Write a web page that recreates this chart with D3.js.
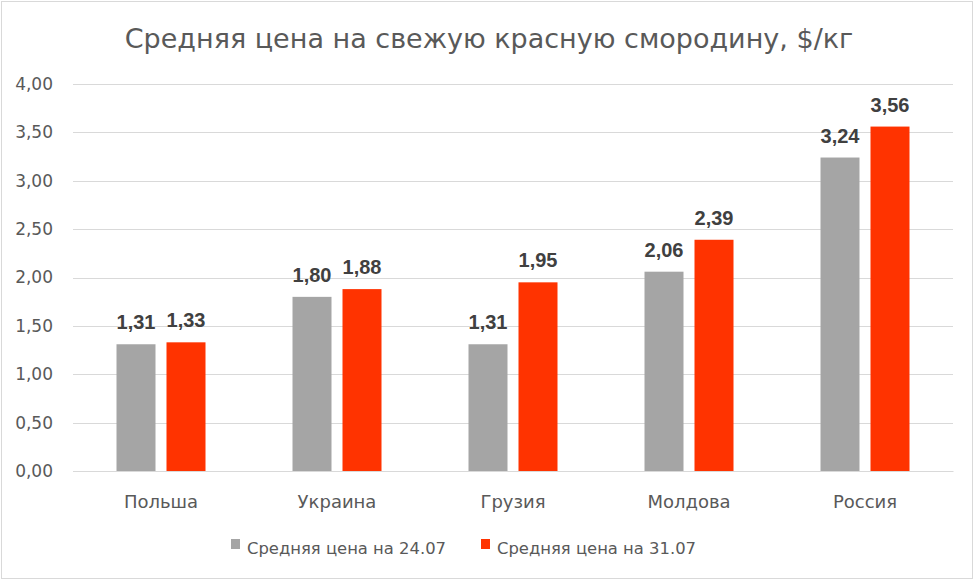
<!DOCTYPE html>
<html>
<head>
<meta charset="utf-8">
<script src="https://cdn.jsdelivr.net/npm/d3@7"></script>
<style>
  body { margin: 0; background: #fff; }
  svg { display: block; font-family: "Liberation Sans", Arial, sans-serif; }
</style>
</head>
<body>
<svg id="chart" width="976" height="582"></svg>
<script>
const categories = ["Польша", "Украина", "Грузия", "Молдова", "Россия"];
const seriesNames = ["Средняя цена на 24.07", "Средняя цена на 31.07"];
const price2407 = [1.31, 1.80, 1.31, 2.06, 3.24];
const price3107 = [1.33, 1.88, 1.95, 2.39, 3.56];
const yTicks = [0, 0.5, 1, 1.5, 2, 2.5, 3, 3.5, 4];
const colors = ["#a5a5a5", "#ff3300"];

const svg = d3.select("#chart");
const width = +svg.attr("width");
const height = +svg.attr("height");
const margin = {top: 84, right: 23, bottom: 111, left: 73};
const sans = "'DejaVu Sans', sans-serif";

const fmt = v => d3.format(".2f")(v).replace(".", ",");

// chart border
svg.append("rect")
  .attr("x", 1.5).attr("y", 1.5)
  .attr("width", width - 5).attr("height", height - 5)
  .attr("fill", "#fff").attr("stroke", "#d9d9d9");

svg.append("text")
  .attr("x", width / 2 + 1).attr("y", 48)
  .attr("text-anchor", "middle")
  .attr("fill", "#595959")
  .style("font-size", "27px")
  .style("font-family", sans)
  .text("Средняя цена на свежую красную смородину, $/кг");

const x0 = d3.scaleBand()
  .domain(categories)
  .range([margin.left, width - margin.right]);

const x1 = d3.scaleBand()
  .domain([0, 1])
  .range([0, x0.bandwidth()])
  .paddingInner(0.22)
  .paddingOuter(0.87);

const y = d3.scaleLinear()
  .domain([0, 4])
  .range([height - margin.bottom, margin.top]);

// grid
svg.append("g")
  .selectAll("line")
  .data(yTicks)
  .join("line")
  .attr("x1", margin.left).attr("x2", width - margin.right)
  .attr("y1", d => Math.round(y(d)) + 0.5).attr("y2", d => Math.round(y(d)) + 0.5)
  .attr("stroke", "#d9d9d9");

// y axis
const yAxis = svg.append("g")
  .attr("transform", `translate(${margin.left - 20},0)`)
  .call(d3.axisLeft(y).tickValues(yTicks).tickFormat(fmt).tickSize(0).tickPadding(0));
yAxis.select(".domain").remove();
yAxis.selectAll("text")
  .attr("fill", "#595959")
  .style("font-size", "17px")
  .style("font-family", sans);

// x axis
const xAxis = svg.append("g")
  .attr("transform", `translate(0,${height - margin.bottom})`)
  .call(d3.axisBottom(x0).tickSize(0).tickPadding(0));
xAxis.select(".domain").attr("stroke", "#d9d9d9");
xAxis.selectAll("text")
  .attr("y", 37)
  .attr("dy", null)
  .attr("fill", "#595959")
  .style("font-size", "18px")
  .style("font-family", sans);

const rows = categories.map((c, i) => ({cat: c, vals: [price2407[i], price3107[i]]}));

const groups = svg.append("g")
  .selectAll("g")
  .data(rows)
  .join("g")
  .attr("transform", d => `translate(${x0(d.cat)},0)`);

groups.selectAll("rect")
  .data(d => d.vals.map((v, k) => ({k, v})))
  .join("rect")
  .attr("x", d => x1(d.k))
  .attr("y", d => y(d.v))
  .attr("width", x1.bandwidth())
  .attr("height", d => y(0) - y(d.v))
  .attr("fill", d => colors[d.k]);

groups.selectAll("text.val")
  .data(d => d.vals.map((v, k) => ({k, v})))
  .join("text")
  .attr("class", "val")
  .attr("x", d => x1(d.k) + x1.bandwidth() / 2)
  .attr("y", d => y(d.v) - 15)
  .attr("text-anchor", "middle")
  .attr("fill", "#404040")
  .style("font-size", "20px")
  .style("font-weight", "bold")
  .text(d => fmt(d.v));

// legend
const legend = svg.append("g")
  .selectAll("g")
  .data(seriesNames)
  .join("g")
  .attr("transform", (d, i) => `translate(${[231, 481][i]},${548})`);

legend.append("rect")
  .attr("x", 0).attr("y", -9)
  .attr("width", 9).attr("height", 10)
  .attr("fill", (d, i) => colors[i]);

legend.append("text")
  .attr("x", 16).attr("y", 0)
  .attr("dy", "0.35em")
  .attr("fill", "#595959")
  .style("font-size", "16.4px")
  .style("font-family", sans)
  .text(d => d);
</script>
</body>
</html>
